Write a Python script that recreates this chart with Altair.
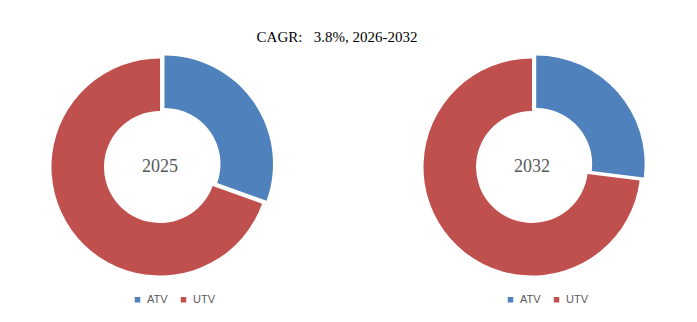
import altair as alt
import pandas as pd

types = ["ATV", "UTV"]
share_2025 = [30.5, 69.5]
share_2032 = [27.0, 73.0]
colors = ["#4F81BD", "#C0504D"]
title_text = "CAGR:\u00a0\u00a0 3.8%, 2026-2032"


def donut(year, shares, ex, ey, lx):
    df = pd.DataFrame({"type": types, "share": shares})
    base = alt.Chart(df).transform_stack(
        stack="share", groupby=[], as_=["s0", "s1"],
        sort=[alt.SortField("type", order="ascending")]
    )
    color = alt.Color(
        "type:N",
        scale=alt.Scale(domain=types, range=colors),
        legend=alt.Legend(
            title=None, orient="none", legendX=lx, legendY=247,
            direction="horizontal", symbolType="square", symbolSize=30,
            labelFont="Liberation Sans", labelFontSize=11, labelColor="#595959",
            columnPadding=10, symbolStrokeWidth=0,
        ),
    )
    theta = alt.Theta("s0:Q", scale=alt.Scale(domain=[0, 100]))
    red = base.transform_filter("datum.type == 'UTV'").mark_arc(
        outerRadius=108.5, innerRadius=56
    ).encode(theta=theta, theta2="s1:Q", color=color)
    blue = base.transform_filter("datum.type == 'ATV'").mark_arc(
        outerRadius=108.5, innerRadius=56, xOffset=ex, yOffset=ey
    ).encode(theta=theta, theta2="s1:Q", color=color)
    label = alt.Chart(pd.DataFrame({"year": [year]})).mark_text(
        font="Liberation Serif", fontSize=18, color="#595959"
    ).encode(text="year:N")
    return alt.layer(red, blue, label).properties(width=300, height=240)


left = donut("2025", share_2025, 4.5, -3, 122)
right = donut("2032", share_2032, 4.2, -3, 123)

chart = alt.hconcat(left, right, spacing=72).resolve_scale(
    color="independent"
).properties(
    title=alt.TitleParams(
        title_text, font="Liberation Serif", fontSize=15, fontWeight="normal",
        color="black", anchor="middle", offset=0, dx=-9, dy=-2
    ),
    padding={"left": 10, "top": 30, "right": 0, "bottom": 0},
).configure_view(stroke=None)

chart.save("out.html", embed_options={"renderer": "svg", "actions": False})
